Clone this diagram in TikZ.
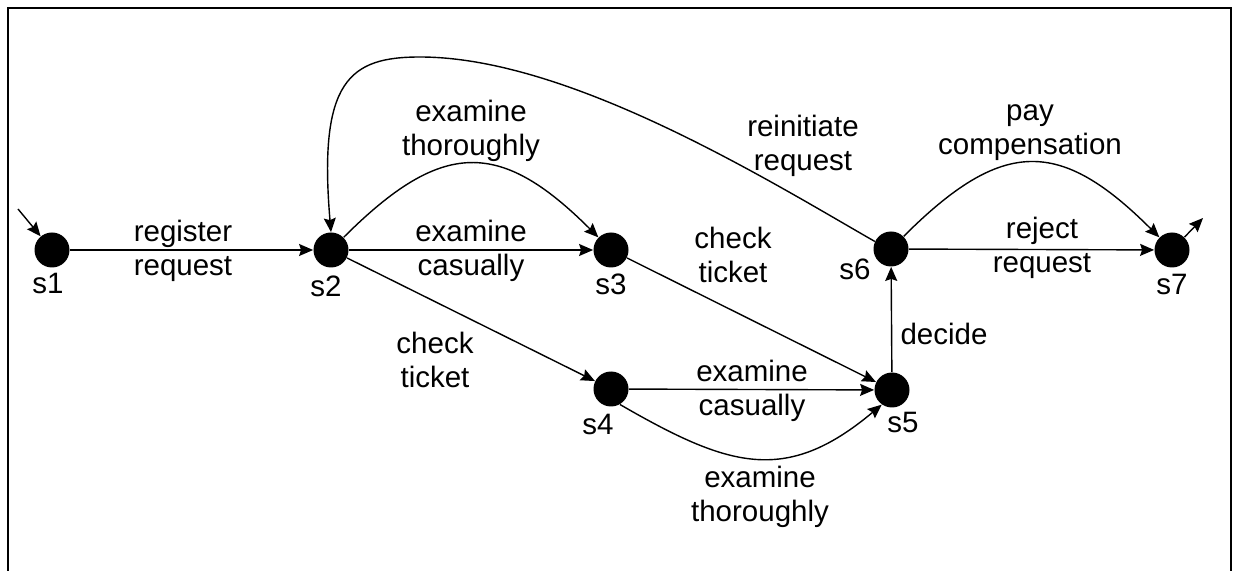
\documentclass[tikz,border=0pt]{standalone}
\usepackage{fontspec}
\setmainfont{Liberation Sans}
\usetikzlibrary{arrows.meta}
\newcommand{\twol}[2]{\strut #1\\\strut #2}
\begin{document}
\begin{tikzpicture}[x=0.5pt,y=0.5pt,
  st/.style={circle,fill=black,minimum size=17.5pt,inner sep=0pt},
  lbl/.style={font=\fontsize{14.75}{17}\selectfont,align=center,inner sep=0pt},
  conn/.style={line width=0.7pt,-{Stealth[length=7pt,width=6pt,inset=1pt]}},
]
\useasboundingbox (0,0) rectangle (1236,-571);
\draw[line width=1pt] (8,-571) -- (8,-8) -- (1231,-8) -- (1231,-571);

% states
\node[st] (s1) at (52,-250) {};
\node[st] (s2) at (331,-250) {};
\node[st] (s3) at (611,-250) {};
\node[st] (s4) at (611,-389) {};
\node[st] (s5) at (892,-390) {};
\node[st] (s6) at (891,-249) {};
\node[st] (s7) at (1172,-250) {};

% state names
\node[lbl] (n1) at (48,-287) {\strut s1};
\node[lbl] (n2) at (326,-290) {\strut s2};
\node[lbl] (n3) at (611,-288) {\strut s3};
\node[lbl] (n4) at (598,-428) {\strut s4};
\node[lbl] (n5) at (903,-426) {\strut s5};
\node[lbl] (n6) at (855,-273) {\strut s6};
\node[lbl] (n7) at (1172,-288) {\strut s7};

\coordinate (in1) at (18,-209);
\coordinate (out7) at (1203,-218);
\coordinate (top) at (420,-57);

% connectors
\draw[conn] (in1) -- (s1);
\draw[conn] (s1) -- (s2);
\draw[conn] (s2) -- (s3);
\draw[conn] (s2) to[out=45,in=135,looseness=1.4] (s3);
\draw[conn] (s2) -- (s4);
\draw[conn] (s3) -- (s5);
\draw[conn] (s4) -- (s5);
\draw[conn] (s4.-60) to[out=-30,in=-140,looseness=1.23] (s5.-125);
\draw[conn] (s5) -- (s6);
\draw[conn] (s6) -- (s7);
\draw[conn] (s6) to[out=45,in=135,looseness=1.4] (s7);
\draw[conn] (s6.155) .. controls (771,-182) and (570,-57) .. (top)
  .. controls (350,-57) and (318,-80) .. (s2.north);
\draw[conn] (s7) -- (out7);

% edge labels
\node[lbl] (l1) at (183,-252) {\twol{register}{request}};
\node[lbl] (l2) at (471,-252) {\twol{examine}{casually}};
\node[lbl] (l3) at (471,-132) {\twol{examine}{thoroughly}};
\node[lbl] (l4) at (733,-259) {\twol{check}{ticket}};
\node[lbl] (l5) at (803,-147) {\twol{reinitiate}{request}};
\node[lbl] (l6) at (1030,-131) {\twol{pay}{compensation}};
\node[lbl] (l7) at (1042,-249) {\twol{reject}{request}};
\node[lbl] (l8) at (944,-338) {\strut decide};
\node[lbl] (l9) at (435,-364) {\twol{check}{ticket}};
\node[lbl] (l10) at (752,-392) {\twol{examine}{casually}};
\node[lbl] (l11) at (760,-498) {\twol{examine}{thoroughly}};
\end{tikzpicture}
\end{document}
